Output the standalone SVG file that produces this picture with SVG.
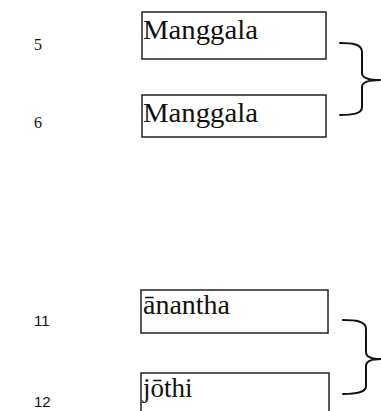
<svg xmlns="http://www.w3.org/2000/svg" width="381" height="411" viewBox="0 0 381 411">
  <style>
    .box { fill: #fff; stroke: #222; stroke-width: 1.5; }
    .word { font-family: "Liberation Serif", "Times New Roman", serif; font-size: 27px; fill: #111; }
    .num { font-family: "Liberation Serif", "Times New Roman", serif; font-size: 16px; fill: #111; }
    .nums { font-family: "Liberation Sans", Arial, sans-serif; font-size: 15px; fill: #111; }
    .brace { fill: none; stroke: #111; stroke-width: 2; stroke-linecap: round; stroke-linejoin: round; }
  </style>
  <rect width="381" height="411" fill="#fff"/>

  <g id="label-5"><text class="num" x="34" y="50">5</text></g>
  <g id="label-6"><text class="num" x="34" y="128">6</text></g>
  <g id="label-11"><text class="nums" x="34" y="326">11</text></g>
  <g id="label-12"><text class="nums" x="34" y="407">12</text></g>

  <g id="node-manggala-1">
    <rect class="box" x="142" y="12" width="184" height="47"/>
    <text class="word" x="143" y="39" textLength="115" lengthAdjust="spacingAndGlyphs">Manggala</text>
  </g>
  <g id="node-manggala-2">
    <rect class="box" x="142" y="95" width="184" height="42"/>
    <text class="word" x="143" y="122" textLength="115" lengthAdjust="spacingAndGlyphs">Manggala</text>
  </g>
  <g id="node-anantha">
    <rect class="box" x="141" y="290" width="187" height="43"/>
    <text class="word" x="143" y="314" textLength="87" lengthAdjust="spacingAndGlyphs">ānantha</text>
  </g>
  <g id="node-jothi">
    <rect class="box" x="141" y="373" width="188" height="42"/>
    <text class="word" x="143" y="397">jōthi</text>
  </g>

  <g id="connectors">
    <path class="brace" d="M340,43 C352,43 362,44 362,52 L362,73 C362,78 370,80 380,80 C370,80 362,82 362,87 L362,107 C362,114 352,115 340,115"/>
    <path class="brace" d="M343,320 C355,320 366,321 366,329 L366,352 C366,357 373,359 381,359 C373,359 366,361 366,366 L366,386 C366,393 355,394 343,394"/>
  </g>
</svg>
